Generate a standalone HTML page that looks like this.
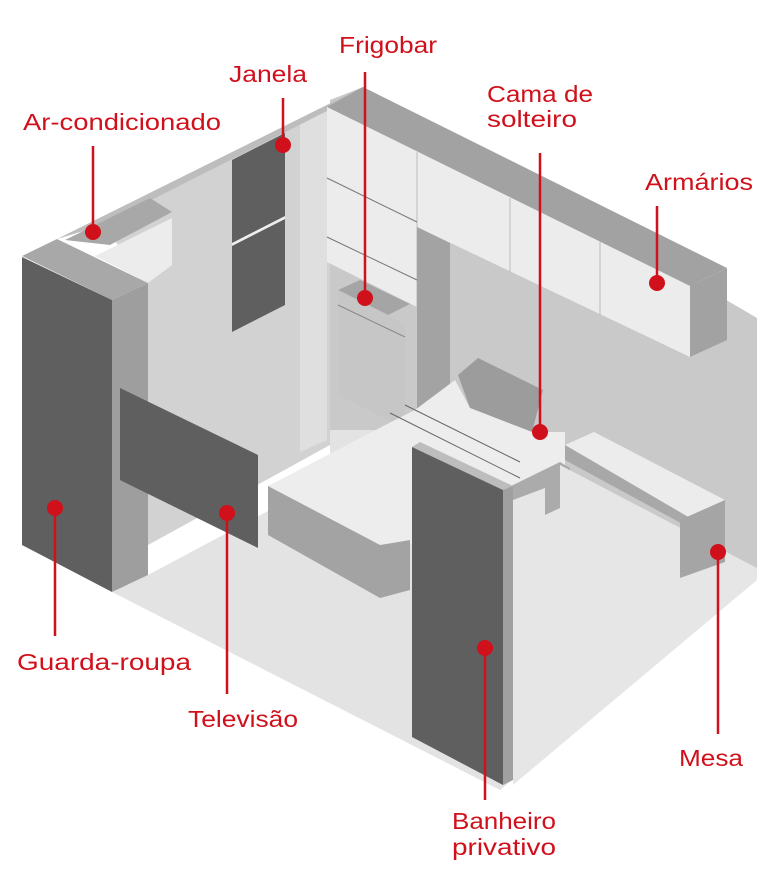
<!DOCTYPE html>
<html><head><meta charset="utf-8"><style>
html,body{margin:0;padding:0;background:#fff;}
svg{display:block}
text{font-family:"Liberation Sans",sans-serif;font-size:23px;fill:#d0101b;}
</style></head><body>
<svg width="765" height="871" viewBox="0 0 765 871" xmlns="http://www.w3.org/2000/svg">
<!-- floor -->
<polygon points="112,592 148,575 330,478 330,420 460,420 757,565 757,580 500,790" fill="#e3e3e3"/>
<!-- back right wall -->
<polygon points="363,87 757,318 757,575 450,430 330,430 330,100" fill="#c9c9c9"/>
<!-- left wall -->
<polygon points="148,283 100,222 330,104 330,445 148,545" fill="#d2d2d2"/>
<!-- light column -->
<polygon points="300,122 327,107 327,440 300,452" fill="#dfdfdf"/>
<!-- left wall top strip -->
<polygon points="57,239 363,87 363,93 327,111 100,226" fill="#bdbdbd"/>
<!-- window -->
<polygon points="232,160 285,133 285,305 232,332" fill="#5f5f5f"/>
<polygon points="232,243 285,216 285,219 232,246" fill="#eeeeee"/>
<!-- cabinet top strip -->
<polygon points="363,87 727,268 690,286 327,107" fill="#a2a2a2"/>
<!-- tall cabinets front -->
<polygon points="327,107 690,286 690,357 417,227 417,307 327,262" fill="#ececec"/>
<line x1="417" y1="152" x2="417" y2="307" stroke="#bbb" stroke-width="1"/>
<line x1="510" y1="198" x2="510" y2="272" stroke="#bbb" stroke-width="1"/>
<line x1="600" y1="242" x2="600" y2="315" stroke="#bbb" stroke-width="1"/>
<line x1="327" y1="178" x2="417" y2="222" stroke="#777" stroke-width="1"/>
<line x1="327" y1="237" x2="417" y2="280" stroke="#777" stroke-width="1"/>
<!-- cabinet end -->
<polygon points="690,286 727,268 727,340 690,357" fill="#a2a2a2"/>
<!-- gap column -->
<polygon points="417,227 450,243 450,420 417,435" fill="#a3a3a3"/>
<!-- fridge -->
<polygon points="338,290 360,280 410,304 388,315" fill="#a5a5a5"/>
<polygon points="338,290 388,315 405,325 405,420 388,420 338,395" fill="#c6c6c6"/>
<line x1="338" y1="305" x2="405" y2="337" stroke="#888" stroke-width="1"/>
<!-- AC box -->
<polygon points="65,240 150,198 172,212 110,245" fill="#a8a8a8"/>
<polygon points="95,256 172,218 172,265 148,283" fill="#ececec"/>
<!-- wardrobe -->
<polygon points="22,256 57,239 148,283 112,300" fill="#a8a8a8"/>
<polygon points="112,300 148,283 148,575 112,592" fill="#9e9e9e"/>
<polygon points="22,257 112,300 112,592 22,545" fill="#5f5f5f"/>
<!-- TV -->
<polygon points="120,388 258,455 258,548 120,480" fill="#5f5f5f"/>
<!-- pillow -->
<polygon points="458,375 478,358 543,390 532,432 470,408" fill="#9c9c9c"/>
<!-- bed top -->
<polygon points="268,486 395,420 415,410 455,380 470,408 532,432 565,432 565,468 410,545 380,545" fill="#ededed"/>
<line x1="390" y1="413" x2="520" y2="478" stroke="#666" stroke-width="1"/>
<line x1="405" y1="405" x2="520" y2="462" stroke="#666" stroke-width="1"/>
<!-- bed front -->
<polygon points="268,486 380,545 410,540 410,590 380,598 268,535" fill="#a3a3a3"/>
<!-- headboard wall block -->
<polygon points="503,490 560,462 570,468 570,505 545,515 545,495 513,515" fill="#ababab"/>
<!-- right bathroom light wall -->
<polygon points="513,500 545,488 545,515 560,508 560,465 757,568 757,580 513,785" fill="#e6e6e6"/>
<!-- desk -->
<polygon points="565,445 594,432 725,500 690,518" fill="#ececec"/>
<polygon points="565,445 690,518 690,528 565,460" fill="#a8a8a8"/>
<polygon points="680,520 725,500 725,562 680,578" fill="#a5a5a5"/>
<!-- bathroom partition -->
<polygon points="412,447 420,442 513,486 503,490" fill="#bdbdbd"/>
<polygon points="503,490 513,486 513,780 503,785" fill="#a0a0a0"/>
<polygon points="412,447 503,490 503,785 412,737" fill="#5f5f5f"/>
<!-- callouts -->
<g stroke="#d0101b" stroke-width="2.5" fill="none">
<line x1="365" y1="72" x2="365" y2="298"/>
<line x1="283" y1="98" x2="283" y2="145"/>
<line x1="93" y1="146" x2="93" y2="232"/>
<line x1="540" y1="153" x2="540" y2="432"/>
<line x1="657" y1="206" x2="657" y2="283"/>
<line x1="55" y1="508" x2="55" y2="636"/>
<line x1="227" y1="513" x2="227" y2="694"/>
<line x1="485" y1="648" x2="485" y2="800"/>
<line x1="718" y1="552" x2="718" y2="734"/>
</g>
<g fill="#d0101b">
<circle cx="365" cy="298" r="8"/>
<circle cx="283" cy="145" r="8"/>
<circle cx="93" cy="232" r="8"/>
<circle cx="540" cy="432" r="8"/>
<circle cx="657" cy="283" r="8"/>
<circle cx="55" cy="508" r="8"/>
<circle cx="227" cy="513" r="8"/>
<circle cx="485" cy="648" r="8"/>
<circle cx="718" cy="552" r="8"/>
</g>
<text x="339" y="53" textLength="98" lengthAdjust="spacingAndGlyphs">Frigobar</text>
<text x="229" y="82" textLength="78" lengthAdjust="spacingAndGlyphs">Janela</text>
<text x="23" y="130" textLength="198" lengthAdjust="spacingAndGlyphs">Ar-condicionado</text>
<text x="487" y="102" textLength="106" lengthAdjust="spacingAndGlyphs">Cama de</text>
<text x="487" y="127" textLength="90" lengthAdjust="spacingAndGlyphs">solteiro</text>
<text x="645" y="190" textLength="108" lengthAdjust="spacingAndGlyphs">Armários</text>
<text x="17" y="670" textLength="174" lengthAdjust="spacingAndGlyphs">Guarda-roupa</text>
<text x="188" y="727" textLength="110" lengthAdjust="spacingAndGlyphs">Televisão</text>
<text x="452" y="829" textLength="104" lengthAdjust="spacingAndGlyphs">Banheiro</text>
<text x="452" y="855" textLength="104" lengthAdjust="spacingAndGlyphs">privativo</text>
<text x="679" y="766" textLength="64" lengthAdjust="spacingAndGlyphs">Mesa</text>
</svg>
</body></html>
